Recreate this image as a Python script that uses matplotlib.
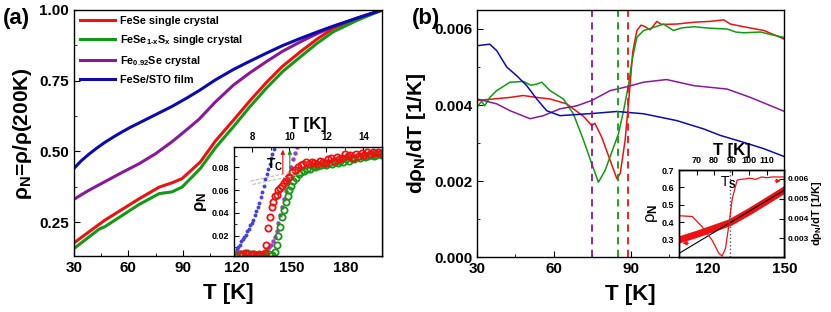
import matplotlib
matplotlib.use("Agg")
from matplotlib import pyplot as plt
from matplotlib.ticker import MultipleLocator

plt.rcParams['font.family'] = ['Liberation Sans', 'DejaVu Sans']
plt.rcParams['font.weight'] = 'bold'
plt.rcParams['mathtext.fontset'] = 'custom'
plt.rcParams['mathtext.rm'] = 'Liberation Sans:bold'
plt.rcParams['mathtext.bf'] = 'Liberation Sans:bold'
plt.rcParams['mathtext.it'] = 'Liberation Sans:bold'
plt.rcParams['axes.linewidth'] = 1.0

RED = '#ee1111'
GREEN = '#139913'
PURPLE = '#861a98'
BLUE = '#0c0cae'

# ---- (a) normalised resistivity ----
T_blue_a = [30, 34, 38, 42, 47, 52, 56.5, 61, 66, 75, 84, 92, 99, 108, 118, 127, 136, 145, 155,
            164, 173, 186, 200]
rho_blue = [0.44, 0.467, 0.489, 0.509, 0.532, 0.552, 0.569, 0.585, 0.601, 0.630, 0.659, 0.688,
            0.715, 0.753, 0.79, 0.819, 0.847, 0.874, 0.9, 0.922, 0.943, 0.971, 1.0]
T_purple_a = [30, 38, 47, 56, 66, 75, 84, 92, 99, 108, 118, 127, 136, 145, 155, 164, 173, 186, 200]
rho_purple = [0.331, 0.362, 0.393, 0.424, 0.457, 0.492, 0.534, 0.576, 0.614, 0.675, 0.735,
              0.778, 0.817, 0.854, 0.888, 0.916, 0.941, 0.971, 1.0]
T_red_a = [30, 47, 66, 77, 84, 89.6, 99.7, 108, 118, 127, 136, 145, 155, 164, 173, 186, 200]
rho_red = [0.177, 0.257, 0.333, 0.374, 0.389, 0.404, 0.463, 0.537, 0.611, 0.679, 0.743, 0.801,
           0.853, 0.897, 0.935, 0.97, 1.0]
T_green_a = [30, 44, 47, 66, 77, 84, 89.6, 99.7, 108, 118, 127, 136, 145, 155, 164, 173, 186, 200]
rho_green = [0.157, 0.226, 0.234, 0.313, 0.351, 0.357, 0.374, 0.44, 0.513, 0.588, 0.658, 0.723,
             0.782, 0.835, 0.882, 0.923, 0.963, 1.0]

# inset (a): low temperature transition
T_in_blue = [7.00, 7.08, 7.16, 7.24, 7.32, 7.40, 7.48, 7.56, 7.64, 7.72, 7.80, 7.88, 7.96, 8.04,
             8.12, 8.20, 8.28, 8.36, 8.44, 8.52, 8.60, 8.68, 8.76, 8.84, 8.92, 9.00, 9.08, 9.14]
r_in_blue = [.004, .006, .008, .010, .012, .015, .017, .019, .021, .024, .026, .029, .031, .034,
             .038, .042, .045, .049, .054, .058, .064, .070, .074, .079, .083, .088, .092, .096]
T_in_purple = [8.5, 8.6, 8.7, 8.8, 8.9, 9.0, 9.1, 9.2, 9.3, 9.4, 9.5, 9.6, 9.7, 9.8, 9.9,
               10.0, 10.1, 10.2, 10.3, 10.38]
r_in_purple = [.002, .004, .006, .008, .010, .012, .015, .019, .024, .031, .038, .045, .052,
               .059, .066, .073, .080, .087, .093, .098]
T_in_red = [7.3, 7.45, 7.6, 7.75, 7.9, 8.05, 8.2, 8.35, 8.5, 8.65, 8.75, 8.85, 8.95, 9.05, 9.12,
            9.2, 9.3, 9.4, 9.5, 9.6, 9.7, 9.8, 9.9, 10.0, 10.15, 10.3, 10.45, 10.6, 10.75, 10.9,
            11.05, 11.2, 11.35, 11.5, 11.65, 11.8, 11.95, 12.1, 12.25, 12.4, 12.55, 12.7, 12.85,
            13.0, 13.15, 13.3, 13.45, 13.6, 13.75, 13.9, 14.05, 14.2, 14.35, 14.5, 14.65, 14.8, 14.95]
r_in_red = [.004, .003, .005, .004, .003, .004, .003, .004, .003, .005, .012, .027, .036, .045, .050,
            .055, .056, .060, .062, .064, .066, .069, .071, .072, .076, .078, .080, .082, .083, .085,
            .083, .085, .084, .083, .086, .085, .084, .087, .088, .086, .089, .087, .088,
            .092, .090, .091, .088, .092, .090, .093, .091, .094, .092, .094, .093, .094, .093]
T_in_green = [7.1, 7.3, 7.5, 7.7, 7.9, 8.1, 8.3, 8.5, 8.7, 8.9, 9.05, 9.2, 9.3, 9.4, 9.5, 9.6, 9.7,
              9.8, 9.9, 10.0, 10.1, 10.2, 10.35, 10.5, 10.65, 10.8, 10.95, 11.1, 11.25, 11.4, 11.55,
              11.7, 11.85, 12.0, 12.15, 12.3, 12.45, 12.6, 12.75, 12.9, 13.05, 13.2, 13.35, 13.5,
              13.65, 13.8, 13.95, 14.1, 14.25, 14.4, 14.55, 14.7, 14.85, 15.0]
r_in_green = [.003, .004, .004, .005, .004, .004, .003, .003, .003, .004, .003, .006, .012, .020,
              .028, .036, .043, .050, .055, .060, .064, .068, .071, .074, .076, .077, .079, .079,
              .081, .080, .081, .082, .083, .082, .084, .083, .085, .084, .086, .085, .087, .086,
              .088, .087, .089, .088, .090, .089, .090, .091, .090, .091, .092, .091]
Tc_red = 9.64
Tc_green = 10.02

# ---- (b) derivative ----
T_red_b = [30, 35, 42.9, 48, 53.3, 58.5, 65, 71.6, 74.8, 76, 78.7, 82, 84.6, 85.9, 87.8, 89.2,
           90.8, 92.4, 94, 95, 97.6, 100.2, 102, 108, 115, 121, 126.3, 128.9, 134, 142, 149.7]
d_red = [0.00412, 0.00415, 0.0042, 0.00425, 0.0042, 0.00416, 0.00403, 0.0037, 0.00346, 0.00352,
         0.00315, 0.00254, 0.00206, 0.0022, 0.00307, 0.0041, 0.0054, 0.00596, 0.0061, 0.00608,
         0.00598, 0.0062, 0.00612, 0.00613, 0.00618, 0.0062, 0.00624, 0.00613, 0.00606, 0.00596,
         0.00574]
T_green_b = [30, 31.8, 33, 35, 37.7, 42.9, 48.1, 51, 53.3, 55.3, 58.5, 63.7, 67.6, 71.6, 74.8, 77.4,
             80, 83.3, 85.2, 87.2, 89.2, 90.5, 92.4, 95, 98, 102.8, 106.7, 110, 114.6, 121, 127.6,
             131, 134, 140.6, 145, 149.7]
d_green = [0.00394, 0.0041, 0.00398, 0.0042, 0.00438, 0.0046, 0.00462, 0.00452, 0.00455, 0.0046,
           0.00438, 0.00416, 0.00377, 0.00307, 0.00245, 0.00197, 0.00228, 0.00289, 0.00324,
           0.00385, 0.00455, 0.00517, 0.00578, 0.00596, 0.00602, 0.00613, 0.00596, 0.00603,
           0.00606, 0.00602, 0.006, 0.00592, 0.0059, 0.00592, 0.00585, 0.00578]
T_purple_b = [30, 37.7, 42.9, 50.7, 55.9, 62.4, 69, 74.8, 82, 88.5, 95, 104, 114.6, 127.6, 136.7, 149.7]
d_purple = [0.00416, 0.00403, 0.00385, 0.00364, 0.00372, 0.0039, 0.00398, 0.00412, 0.00438,
            0.00448, 0.0046, 0.00467, 0.00451, 0.00442, 0.0042, 0.00384]
T_blue_b = [30, 35, 37.7, 41.6, 45.5, 49.4, 53.3, 57.2, 62.4, 75.5, 84.6, 95, 108, 118.5, 125, 134,
            142, 149.7]
d_blue = [0.00556, 0.0056, 0.00543, 0.005, 0.00477, 0.00451, 0.00416, 0.00385, 0.00372, 0.00378,
          0.00383, 0.00377, 0.00359, 0.00337, 0.0032, 0.00302, 0.00285, 0.00265]
Ts_purple, Ts_green, Ts_red = 75, 85, 89

# inset (b): FeSe rho_N and derivative around Ts
T_in_b = [60, 70, 80, 89, 100, 110, 120]
rho_in_b = [0.298, 0.33, 0.365, 0.397, 0.46, 0.522, 0.585]
T_fit = [60, 120]
rho_fit = [0.221, 0.585]
T_in_bd = [60, 64, 67.6, 73.1, 78.9, 82.7, 84.6, 86.5, 88.4, 90.3, 93.1, 95, 97.9, 100, 103.6,
           107, 110, 113, 116, 119.8]
d_in_b = [0.00414, 0.00412, 0.0041, 0.00359, 0.0029, 0.00224, 0.0021, 0.0025, 0.00367, 0.005,
          0.00594, 0.00598, 0.006, 0.00604, 0.00598, 0.0061, 0.00606, 0.0061, 0.0061, 0.0061]

fig = plt.figure(figsize=(8.31, 3.12), dpi=100)

def style(ax, size=11):
    ax.tick_params(which='both', direction='in', labelsize=size)
    ax.tick_params(which='major', length=4)
    ax.tick_params(which='minor', length=2)
    for lab in ax.get_xticklabels() + ax.get_yticklabels():
        lab.set_fontweight('bold')

# panel (a)
ax1 = fig.add_axes([0.089, 0.179, 0.371, 0.789])
ax1.plot(T_red_a, rho_red, color=RED, lw=2.2, label='FeSe single crystal')
ax1.plot(T_green_a, rho_green, color=GREEN, lw=2.2, label='FeSe$_{1\u2010x}$S$_x$ single crystal')
ax1.plot(T_purple_a, rho_purple, color=PURPLE, lw=2.2, label='Fe$_{0.92}$Se crystal')
ax1.plot(T_blue_a, rho_blue, color=BLUE, lw=2.2, label='FeSe/STO film')
ax1.set_xlim(30, 200)
ax1.set_ylim(0.13, 1.0)
ax1.xaxis.set_minor_locator(MultipleLocator(15))
ax1.yaxis.set_minor_locator(MultipleLocator(0.125))
ax1.set_xticks([30, 60, 90, 120, 150, 180])
ax1.set_yticks([0.25, 0.5, 0.75, 1.0])
ax1.set_yticklabels(['0.25', '0.50', '0.75', '1.00'])
style(ax1)
ax1.set_xlabel('T [K]', fontsize=16, fontweight='bold', labelpad=6)
ax1.set_ylabel('ρ$_N$=ρ/ρ(200K)', fontsize=15, fontweight='bold', labelpad=4)
leg = ax1.legend(loc='upper left', frameon=False, fontsize=7.8, handlelength=3.2,
                 labelspacing=0.65, borderaxespad=0.15, handletextpad=0.5)
for t in leg.get_texts():
    t.set_fontweight('bold')
fig.text(0.004, 0.975, '(a)', fontsize=16, fontweight='bold', va='top')

# inset (a)
ia = fig.add_axes([0.2816, 0.179, 0.178, 0.350])
ia.plot(T_in_blue, r_in_blue, ls='none', marker='o', ms=1.8, color='#4444dd')
ia.plot(T_in_purple, r_in_purple, ls='none', marker='o', ms=2.2, color='#a040c0')
ia.plot(T_in_green, r_in_green, ls='none', marker='o', ms=4.5, mfc='none', mec=GREEN, mew=1.3)
ia.plot(T_in_red, r_in_red, ls='none', marker='o', ms=4.5, mfc='none', mec=RED, mew=1.3)
ia.plot([7.9, 10.4], [0.068, 0.077], color='#ff9999', lw=0.7, ls='--')
ia.plot([8.0, 10.6], [0.065, 0.074], color='#99cc99', lw=0.7, ls='--')
ia.annotate('', xy=(Tc_red, 0.098), xytext=(Tc_red, 0.072),
            arrowprops=dict(arrowstyle='-|>', color=RED, lw=0.8, mutation_scale=6))
ia.annotate('', xy=(Tc_green, 0.098), xytext=(Tc_green, 0.072),
            arrowprops=dict(arrowstyle='-|>', color=GREEN, lw=0.8, mutation_scale=6))
ia.text(8.75, 0.079, 'T$_C$', fontsize=10, fontweight='bold')
ia.set_xlim(7, 15)
ia.set_ylim(0.002, 0.098)
ia.xaxis.set_major_locator(MultipleLocator(2))
ia.xaxis.set_minor_locator(MultipleLocator(1))
ia.set_yticks([0.02, 0.04, 0.06, 0.08])
ia.yaxis.set_minor_locator(MultipleLocator(0.01))
ia.xaxis.tick_top()
ia.xaxis.set_label_position('top')
ia.tick_params(which='both', direction='in', labelsize=6.5, top=True, bottom=False)
ia.tick_params(axis='x', labelsize=7)
ia.set_xlabel('T [K]', fontsize=12, fontweight='bold', labelpad=2)
ia.set_ylabel('ρ$_N$', fontsize=12, fontweight='bold', labelpad=2)

# panel (b)
ax2 = fig.add_axes([0.574, 0.176, 0.370, 0.792])
ax2.plot(T_red_b, d_red, color=RED, lw=1.1)
ax2.plot(T_green_b, d_green, color=GREEN, lw=1.1)
ax2.plot(T_purple_b, d_purple, color=PURPLE, lw=1.1)
ax2.plot(T_blue_b, d_blue, color=BLUE, lw=1.1)
for ts, c in [(Ts_purple, PURPLE), (Ts_green, GREEN), (Ts_red, RED)]:
    ax2.axvline(ts, color=c, ls=(0, (4, 3)), lw=1.3)
ax2.set_xlim(30, 150)
ax2.set_ylim(0, 0.0065)
ax2.set_xticks([30, 60, 90, 120, 150])
ax2.xaxis.set_minor_locator(MultipleLocator(15))
ax2.set_yticks([0.0, 0.002, 0.004, 0.006])
ax2.set_yticklabels(['0.000', '0.002', '0.004', '0.006'])
ax2.yaxis.set_minor_locator(MultipleLocator(0.001))
style(ax2)
ax2.set_xlabel('T [K]', fontsize=16, fontweight='bold', labelpad=6)
ax2.set_ylabel('dρ$_N$/dT [1/K]', fontsize=15, fontweight='bold', labelpad=4)
fig.text(0.496, 0.975, '(b)', fontsize=16, fontweight='bold', va='top')

# inset (b)
ib = fig.add_axes([0.817, 0.176, 0.127, 0.279])
ib.plot(T_in_b, rho_in_b, color=RED, lw=5)
ib.plot(T_fit, rho_fit, color='black', lw=0.8)
ib.axvline(89, color='#555555', ls=':', lw=1.0)
ib.annotate('', xy=(60.5, 0.28), xytext=(67, 0.28),
            arrowprops=dict(arrowstyle='-|>', color=RED, lw=0.8, mutation_scale=6))
ib.text(83.5, 0.605, 'T$_S$', fontsize=10, fontweight='normal')
ib.set_xlim(60, 120)
ib.set_ylim(0.2, 0.7)
ib.set_xticks([70, 80, 90, 100, 110])
ib.set_yticks([0.3, 0.4, 0.5, 0.6, 0.7])
ib.xaxis.tick_top()
ib.xaxis.set_label_position('top')
ib.tick_params(which='both', direction='in', labelsize=6.5, top=True, bottom=False)
ib.set_xlabel('T [K]', fontsize=12, fontweight='bold', labelpad=1)
ib.set_ylabel('ρ$_N$', fontsize=12, fontweight='normal', labelpad=1)
ib2 = ib.twinx()
ib2.plot(T_in_bd, d_in_b, color=RED, lw=0.9)
ib2.annotate('', xy=(119.5, 0.0059), xytext=(113, 0.0059),
             arrowprops=dict(arrowstyle='-|>', color=RED, lw=0.8, mutation_scale=6))
ib2.set_ylim(0.00205, 0.00645)
ib2.set_yticks([0.003, 0.004, 0.005, 0.006])
ib2.tick_params(direction='in', labelsize=6, pad=2)
ib2.set_ylabel('dρ$_N$/dT [1/K]', fontsize=8, fontweight='bold', labelpad=1)

plt.savefig('out.png', dpi=100)
